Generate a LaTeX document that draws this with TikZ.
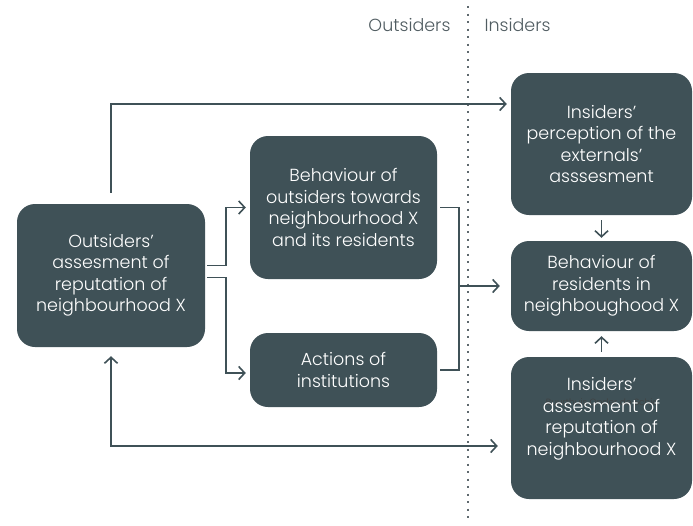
\documentclass[tikz,border=0pt]{standalone}
\usepackage{fontspec}
\setmainfont{Poppins}[UprightFont=* Light]
\usepackage{tikz}
\usetikzlibrary{arrows.meta, calc}

\definecolor{slate}{RGB}{63,81,87}
\definecolor{kop}{RGB}{80,92,97}
\definecolor{stip}{RGB}{95,105,110}

\tikzset{
  blok/.style={fill=slate, rounded corners=18pt, text=white, align=center, inner sep=0pt,
    font=\fontsize{17.5}{21.5}\selectfont},
  tekst/.style={text=white, align=center, inner sep=0pt, font=\fontsize{17.5}{21.5}\selectfont},
  lijn/.style={draw=slate, line width=1.6pt},
  pijl/.style={lijn, -{Straight Barb[length=6pt,width=13pt]}},
}

\begin{document}
\begin{tikzpicture}[x=1pt, y=-1pt]
    \useasboundingbox (0,0) rectangle (693,525);

    % divider and headings
    \draw[stip, line width=2pt, dash pattern=on 2pt off 5.5pt] (468,6) -- (468,522);
    \node[anchor=east, text=kop, font=\fontsize{17.5}{21}\selectfont] (out) at (454,25) {Outsiders};
    \node[anchor=west, text=kop, font=\fontsize{17.5}{21}\selectfont] (in) at (481,25) {Insiders};

    % boxes
    \node[blok, minimum width=188pt, minimum height=143pt] (ext) at (111,275.5)
        {Outsiders'\\assesment of\\reputation of\\neighbourhood X};
    \node[blok, minimum width=187pt, minimum height=143pt] (beh) at (343.5,207.5)
        {Behaviour of\\outsiders towards\\neighbourhood X\\and its residents};
    \node[blok, minimum width=187pt, minimum height=74pt] (inst) at (343.5,370)
        {Actions of\\institutions};
    \node[blok, minimum width=181pt, minimum height=142pt] (perc) at (601.5,144)
        {Insiders'\\perception of the\\externals'\\asssesment};
    \node[blok, minimum width=181pt, minimum height=90pt] (resid) at (601.5,286)
        {Behaviour of\\residents in\\neighboughood X};
    \node[blok, minimum width=181pt, minimum height=142pt] (insass) at (601.5,428) {};
    \node[text=black!75, inner sep=0pt, font=\fontsize{9}{10}\selectfont] (stamp) at (602,402)
        {Buurthuis Onder de Schie};
    \node[tekst] (insasstxt) at (601.5,419)
        {Insiders'\\assesment of\\reputation of\\neighbourhood X};

    % connectors
    \draw[pijl] ([yshift=11pt]ext.north) |- ([xshift=-4pt,yshift=40pt]perc.west);
    \draw[pijl] ([xshift=2pt,yshift=10pt]ext.east) -- ++(19,0) |- ([xshift=-4pt]beh.west);
    \draw[pijl] ([xshift=2pt,yshift=-2pt]ext.east) -- ++(19,0) |- ([xshift=-4pt,yshift=-3pt]inst.west);
    \draw[lijn] ([xshift=3pt]beh.east) -- ++(19,0) coordinate (hoek)
        -- (hoek |- inst.east) -- ([xshift=3pt]inst.east);
    \coordinate (knik) at (hoek |- resid.west);
    \draw[pijl] (knik) -- ([xshift=-11pt]resid.west);
    \draw[pijl] ([yshift=-5pt]perc.south) -- ([yshift=3pt]resid.north);
    \draw[pijl] ([yshift=5pt]insass.north) -- ([yshift=-5pt]resid.south);
    \draw[lijn, {Straight Barb[length=6pt,width=13pt]}-{Straight Barb[length=6pt,width=13pt]}]
        ([yshift=-9pt]ext.south) |- ([xshift=-13pt,yshift=-18pt]insass.west);
\end{tikzpicture}
\end{document}
